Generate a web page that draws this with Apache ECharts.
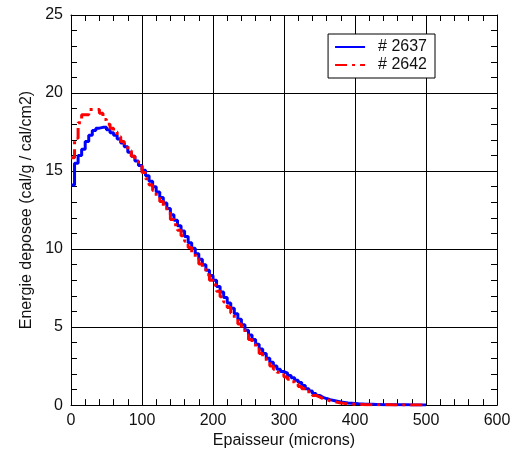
<!DOCTYPE html>
<html>
<head>
<meta charset="utf-8">
<script src="https://cdn.jsdelivr.net/npm/echarts@6/dist/echarts.min.js"></script>
<style>html,body{margin:0;padding:0;background:#fff;}#chart{width:517px;height:454px;}</style>
</head>
<body>
<div id="chart"></div>
<script>
// Bin starts (microns), bin width 5
var binWidth = 5;
var binStarts = [];
for (var i = 0; i < 100; i++) binStarts.push(i * binWidth);

var series2637 = [
  14.1, 15.5, 16.0, 16.4, 16.9, 17.3, 17.6, 17.75, 17.8, 17.8,
  17.65, 17.45, 17.3, 17.05, 16.8, 16.55, 16.2, 15.95, 15.65, 15.35,
  15.05, 14.7, 14.35, 14.0, 13.65, 13.3, 12.95, 12.6, 12.2, 11.85,
  11.5, 11.15, 10.8, 10.4, 10.05, 9.7, 9.35, 9.0, 8.65, 8.3,
  8.0, 7.6, 7.25, 6.9, 6.55, 6.2, 5.85, 5.5, 5.15, 4.8,
  4.5, 4.2, 3.9, 3.6, 3.3, 3.0, 2.75, 2.5, 2.3, 2.15,
  2.05, 1.9, 1.75, 1.6, 1.45, 1.25, 1.05, 0.9, 0.75, 0.62,
  0.5, 0.42, 0.35, 0.3, 0.25, 0.2, 0.17, 0.14, 0.12, 0.1,
  0.08, 0.07, 0.06, 0.05, 0.05, 0.04, 0.04, 0.03, 0.03, 0.03,
  0.03, 0.02, 0.02, 0.02, 0.02, 0.01, 0.01, 0.01, 0.01, 0.0
];
var series2642 = [
  15.85, 17.1, 18.1, 18.6, 18.6, 18.95, 18.95, 18.95, 18.7, 18.3,
  18.0, 17.75, 17.5, 17.2, 16.9, 16.6, 16.3, 15.95, 15.6, 15.3,
  14.9, 14.5, 14.1, 13.75, 13.4, 13.05, 12.65, 12.3, 11.9, 11.55,
  11.2, 10.85, 10.5, 10.1, 9.75, 9.4, 9.05, 8.7, 8.35, 8.0,
  7.7, 7.3, 6.95, 6.6, 6.25, 5.9, 5.55, 5.2, 4.85, 4.5,
  4.2, 3.9, 3.6, 3.3, 3.0, 2.75, 2.5, 2.3, 2.1, 1.95,
  1.8, 1.65, 1.5, 1.35, 1.2, 1.05, 0.9, 0.75, 0.62, 0.52,
  0.42, 0.35, 0.28, 0.23, 0.18, 0.14, 0.11, 0.09, 0.07, 0.05,
  0.04, 0.04, 0.03, 0.03, 0.03, 0.02, 0.02, 0.02, 0.02, 0.02,
  0.01, 0.01, 0.01, 0.01, 0.01, 0.01, 0.0, 0.0, 0.0, 0.0
];
var seriesNames = ['# 2637', '# 2642'];
var xTitle = 'Epaisseur (microns)';
var yTitle = 'Energie deposee (cal/g / cal/cm2)';

function toSteps(values) {
  var pts = [];
  for (var i = 0; i < values.length; i++) pts.push([binStarts[i], values[i]]);
  pts.push([binStarts[values.length - 1] + binWidth, values[values.length - 1]]);
  return pts;
}

var font = 'Liberation Sans, Arial, Helvetica, sans-serif';
var chart = echarts.init(document.getElementById('chart'));
var baseX = {
  type: 'value', min: 0, max: 600, interval: 100,
  axisLine: { show: true, onZero: false, lineStyle: { color: '#000', width: 1 } },
  axisTick: { show: true, inside: true, length: 8, lineStyle: { color: '#000' } },
  minorTick: { show: true, splitNumber: 5, length: 6, lineStyle: { color: '#000' } },
  splitLine: { show: false }
};
var baseY = {
  type: 'value', min: 0, max: 25, interval: 5,
  axisLine: { show: true, onZero: false, lineStyle: { color: '#000', width: 1 } },
  axisTick: { show: true, inside: true, length: 8, lineStyle: { color: '#000' } },
  minorTick: { show: true, splitNumber: 5, length: 6, lineStyle: { color: '#000' } },
  splitLine: { show: false }
};
var option = {
  backgroundColor: '#fff',
  animation: false,
  textStyle: { fontFamily: font },
  grid: { left: 71, right: 20, top: 15, bottom: 46, containLabel: false },
  legend: {
    orient: 'vertical',
    right: 82, top: 34,
    data: seriesNames,
    backgroundColor: '#fff',
    borderColor: '#000', borderWidth: 1, borderRadius: 0,
    padding: [5, 8, 5, 6],
    itemGap: 2,
    itemWidth: 30, itemHeight: 16,
    itemStyle: { opacity: 0 },
    textStyle: { fontSize: 16, color: '#111', fontFamily: font, padding: [0, 0, 0, 8] }
  },
  xAxis: [
    Object.assign({}, baseX, {
      position: 'bottom',
      name: xTitle, nameLocation: 'middle', nameGap: 24,
      nameTextStyle: { fontSize: 16, color: '#111', fontFamily: font },
      axisLabel: { fontSize: 16, color: '#111', margin: 7, fontFamily: font },
      splitLine: { show: true, lineStyle: { color: '#000', width: 1 } }
    }),
    Object.assign({}, baseX, { position: 'top', axisLabel: { show: false } })
  ],
  yAxis: [
    Object.assign({}, baseY, {
      position: 'left',
      name: yTitle, nameLocation: 'middle', nameGap: 28,
      nameTextStyle: { fontSize: 16, color: '#111', fontFamily: font },
      axisLabel: { fontSize: 16, color: '#111', margin: 8, fontFamily: font },
      splitLine: { show: true, lineStyle: { color: '#000', width: 1 } }
    }),
    Object.assign({}, baseY, { position: 'right', axisLabel: { show: false } })
  ],
  series: [
    {
      name: seriesNames[0], type: 'line', step: 'end',
      data: toSteps(series2637), showSymbol: false, symbol: 'none',
      lineStyle: { color: '#0000ff', width: 3 }, itemStyle: { color: '#0000ff' },
      z: 3
    },
    {
      name: seriesNames[1], type: 'line', step: 'end',
      data: toSteps(series2642), showSymbol: false, symbol: 'none',
      lineStyle: { color: '#ff0000', width: 3, type: [12, 5, 3, 5] }, itemStyle: { color: '#ff0000' },
      z: 4
    }
  ]
};
chart.setOption(option);
</script>
</body>
</html>
